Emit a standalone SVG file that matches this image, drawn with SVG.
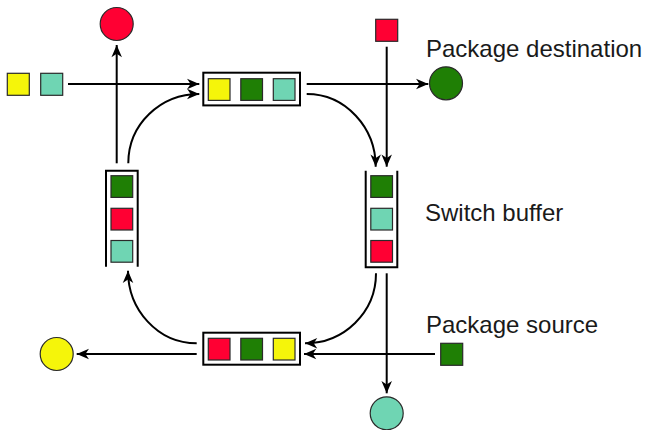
<svg xmlns="http://www.w3.org/2000/svg" width="647" height="430" viewBox="0 0 647 430">
<style>
.pk{stroke:#2a2a2a;stroke-width:1.2}
.y{fill:#f5f50a}.r{fill:#ff0033}.g{fill:#1f7f05}.t{fill:#6fd5b3}
.buf{fill:none;stroke:#000;stroke-width:2}
.bufr{fill:#fff;stroke:#000;stroke-width:2}
.c{fill:none;stroke:#000;stroke-width:2}
.lbl{font-family:"Liberation Sans",Arial,sans-serif;font-size:24px;fill:#1a1a1a}
</style>
<defs>
<marker id="ah" markerUnits="userSpaceOnUse" markerWidth="14" markerHeight="12" viewBox="-11 -5 12 10" refX="0" refY="0" orient="auto">
<path d="M0,0 L-10.5,-4.5 L-7.5,0 L-10.5,4.5 Z" fill="#000"/>
</marker>
</defs>
<g id="connectors">
<path class="c" d="M68,84 H199.3" marker-end="url(#ah)"/>
<path class="c" d="M306.7,84 H428.3" marker-end="url(#ah)"/>
<path class="c" d="M386.7,46.7 V166.7" marker-end="url(#ah)"/>
<path class="c" d="M306.7,94 C345.7,94 375.7,127.7 375.7,166.7" marker-end="url(#ah)"/>
<path class="c" d="M116.7,163.3 V45" marker-end="url(#ah)"/>
<path class="c" d="M128.3,163.3 C128.3,124.3 160.3,94 199.3,94" marker-end="url(#ah)"/>
<path class="c" d="M386.7,273.3 V393.3" marker-end="url(#ah)"/>
<path class="c" d="M376,273.3 C376,312.3 344,343.3 305,343.3" marker-end="url(#ah)"/>
<path class="c" d="M435,354 H304" marker-end="url(#ah)"/>
<path class="c" d="M196.7,354 H76.7" marker-end="url(#ah)"/>
<path class="c" d="M196.7,343.3 C157.7,343.3 128,309.7 128,270.7" marker-end="url(#ah)"/>
</g>
<g id="top-buffer">
<rect class="bufr" x="203.3" y="72.7" width="96.7" height="32.7"/>
<rect class="pk y" x="208.3" y="78.7" width="21.7" height="21.7"/>
<rect class="pk g" x="240.8" y="78.7" width="21.7" height="21.7"/>
<rect class="pk t" x="273.3" y="78.7" width="21.7" height="21.7"/>
</g>
<g id="bottom-buffer">
<rect class="bufr" x="203.3" y="332.7" width="96.7" height="32"/>
<rect class="pk r" x="208.3" y="338.3" width="21.7" height="21.7"/>
<rect class="pk g" x="240.8" y="338.3" width="21.7" height="21.7"/>
<rect class="pk y" x="273.3" y="338.3" width="21.7" height="21.7"/>
</g>
<g id="left-buffer">
<path class="buf" d="M106,266.7 V170.7 H137.7 V266.7"/>
<rect class="pk g" x="111" y="175.7" width="21.7" height="21.7"/>
<rect class="pk r" x="111" y="208.3" width="21.7" height="21.7"/>
<rect class="pk t" x="111" y="240.5" width="21.7" height="21.7"/>
</g>
<g id="right-buffer">
<path class="buf" d="M365.7,170.7 V267.3 H397.3 V170.7"/>
<rect class="pk g" x="370.8" y="175.7" width="21.7" height="21.7"/>
<rect class="pk t" x="370.8" y="208.3" width="21.7" height="21.7"/>
<rect class="pk r" x="370.8" y="240.5" width="21.7" height="21.7"/>
</g>
<g id="src-yellow"><rect class="pk y" x="7.3" y="73.3" width="22" height="22"/></g>
<g id="src-teal"><rect class="pk t" x="40.7" y="73.3" width="22" height="22"/></g>
<g id="src-red"><rect class="pk r" x="375.7" y="19.3" width="22" height="22"/></g>
<g id="src-green"><rect class="pk g" x="440.7" y="343.3" width="22" height="22"/></g>
<g id="dst-red"><circle class="pk r" cx="116.7" cy="24" r="16.5"/></g>
<g id="dst-green"><circle class="pk g" cx="446" cy="83.3" r="16.5"/></g>
<g id="dst-yellow"><circle class="pk y" cx="56.7" cy="354" r="16.5"/></g>
<g id="dst-teal"><circle class="pk t" cx="386.7" cy="413.3" r="16.5"/></g>
<g id="labels">
<text class="lbl" x="426" y="56.7">Package destination</text>
<text class="lbl" x="425" y="221">Switch buffer</text>
<text class="lbl" x="426" y="332.7">Package source</text>
</g>
</svg>
